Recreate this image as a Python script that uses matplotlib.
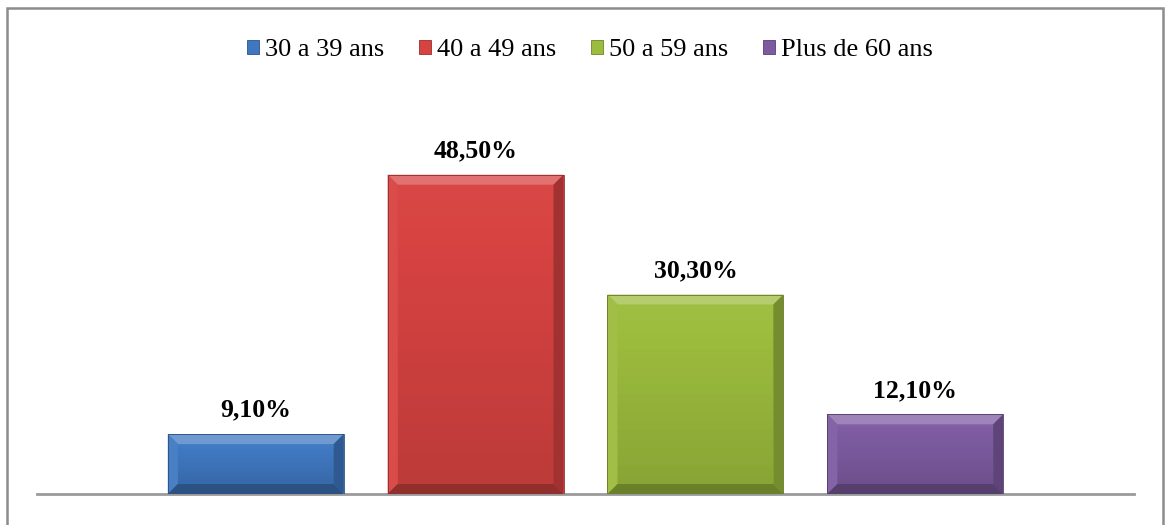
import matplotlib
matplotlib.use("Agg")
import matplotlib.pyplot as plt
from matplotlib.patches import Rectangle, Polygon
from matplotlib.colors import to_rgb
import numpy as np

categories = ["30 a 39 ans", "40 a 49 ans", "50 a 59 ans", "Plus de 60 ans"]
values = [9.10, 48.50, 30.30, 12.10]
labels = ["9,10%", "48,50%", "30,30%", "12,10%"]
colors = ["#3F78C1", "#D74341", "#9CBC3D", "#7E5BA1"]

W, H, DPI = 1165, 525, 100
plt.rcParams["font.family"] = ["Liberation Serif", "DejaVu Serif"]

fig = plt.figure(figsize=(W / DPI, H / DPI), dpi=DPI)
fig.patch.set_facecolor("white")

# outer frame (open at the bottom edge)
frame = Rectangle((7 / W, -0.05), (1163 - 7) / W, (H - 8) / H + 0.05,
                  transform=fig.transFigure, fill=False,
                  edgecolor="#8C8C8C", linewidth=1.8)
fig.patches.append(frame)

ax = fig.add_axes([37 / W, 31 / H, (1134 - 37) / W, (494 - 99) / H])
ax.set_xlim(-0.995, 3.995)
ax.set_ylim(0, 60)
for s in ["top", "right", "left"]:
    ax.spines[s].set_visible(False)
ax.spines["bottom"].set_color("#9A9A9A")
ax.spines["bottom"].set_linewidth(2)
ax.set_xticks([])
ax.set_yticks([])

x = np.arange(len(values))
bars = ax.bar(x, values, width=0.8, color=colors, edgecolor="none", zorder=2)


def shade(c, f):
    r, g, b = to_rgb(c)
    if f >= 0:
        return (r + (1 - r) * f, g + (1 - g) * f, b + (1 - b) * f)
    return (r * (1 + f), g * (1 + f), b * (1 + f))


fig.canvas.draw()
to_disp = ax.transData
to_data = ax.transData.inverted()
bev = 10  # bevel size in pixels
for bar, c in zip(bars, colors):
    x0, y0 = bar.get_x(), bar.get_y()
    x1, y1 = x0 + bar.get_width(), y0 + bar.get_height()
    (px0, py0), (px1, py1) = to_disp.transform([(x0, y0), (x1, y1)])
    ix0, ix1, iy0, iy1 = px0 + bev, px1 - bev, py0 + bev, py1 - bev
    faces = [
        ([(px0, py1), (px1, py1), (ix1, iy1), (ix0, iy1)], shade(c, 0.25)),
        ([(px0, py0), (px0, py1), (ix0, iy1), (ix0, iy0)], shade(c, 0.05)),
        ([(px1, py0), (px1, py1), (ix1, iy1), (ix1, iy0)], shade(c, -0.25)),
        ([(px0, py0), (px1, py0), (ix1, iy0), (ix0, iy0)], shade(c, -0.32)),
    ]
    for pts, fc in faces:
        ax.add_patch(Polygon(to_data.transform(pts), closed=True,
                             facecolor=fc, edgecolor="none", zorder=3))
    # soft vertical gradient on the inner face
    n = 20
    for k in range(n):
        ya = iy0 + (iy1 - iy0) * k / n
        yb = iy0 + (iy1 - iy0) * (k + 1) / n
        fc = shade(c, -0.12 * (1 - k / n) + 0.03 * (k / n))
        pts = [(ix0, ya), (ix1, ya), (ix1, yb), (ix0, yb)]
        ax.add_patch(Polygon(to_data.transform(pts), closed=True,
                             facecolor=fc, edgecolor="none", zorder=2.5))
    ax.add_patch(Rectangle((x0, y0), x1 - x0, y1 - y0, fill=False,
                           edgecolor=shade(c, -0.35), linewidth=0.6, zorder=4))

for xi, v, lab in zip(x, values, labels):
    ax.annotate(lab, (xi, v), xytext=(0, 9), textcoords="offset points",
                ha="center", va="bottom", fontsize=18.5, fontweight="bold",
                color="black")

handles = [Rectangle((0, 0), 1, 1, facecolor=c, edgecolor=shade(c, -0.3),
                     linewidth=0.6) for c in colors]
fig.legend(handles, categories, loc="center", bbox_to_anchor=(590 / W, 1 - 50 / H),
           ncol=4, frameon=False, fontsize=19, handlelength=0.45,
           handleheight=0.45, handletextpad=0.25, columnspacing=1.3,
           borderaxespad=0)

fig.savefig("out.png", dpi=DPI, facecolor="white")
